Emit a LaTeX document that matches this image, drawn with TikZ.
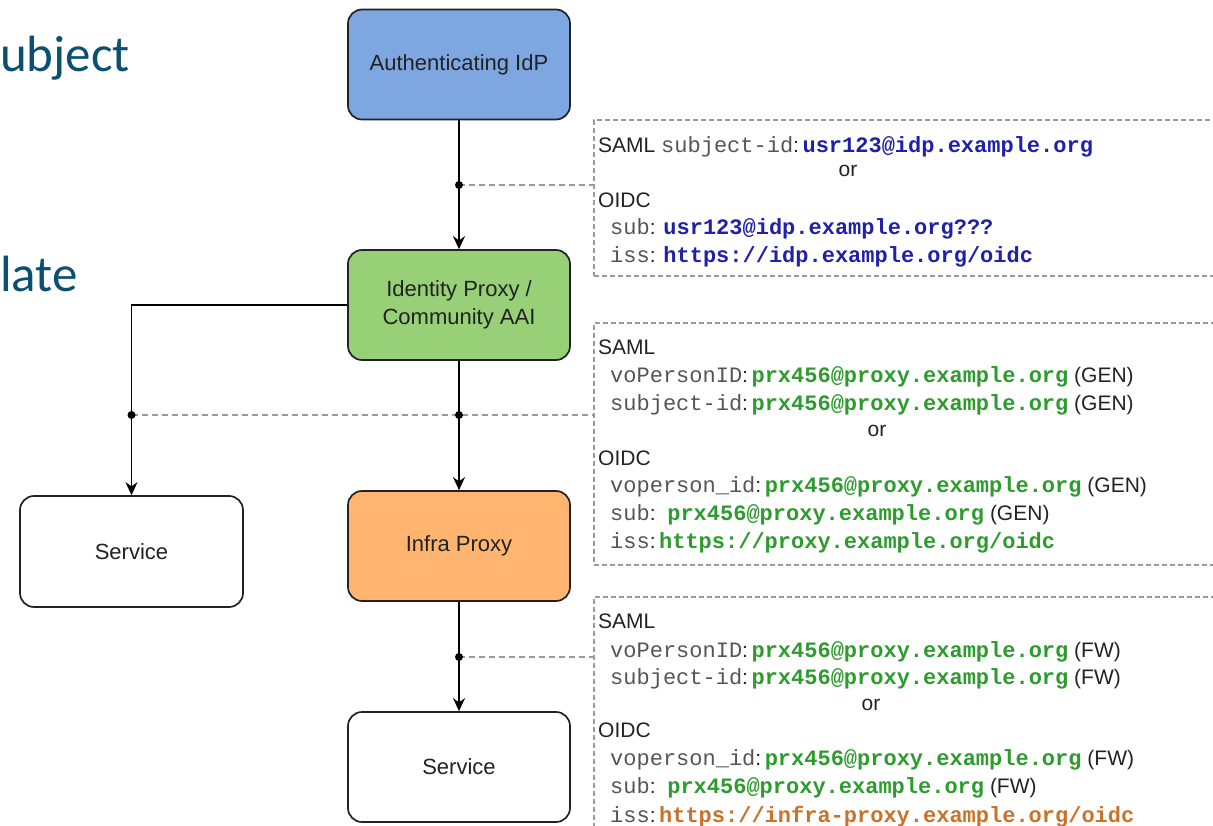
\documentclass[tikz,border=0pt]{standalone}
\usepackage{fontspec}
\setmainfont{Liberation Sans}
\setmonofont{Liberation Mono}
\newfontfamily\slidefont{Carlito}
\usetikzlibrary{arrows.meta}

\definecolor{idpblue}{HTML}{7EA6E0}
\definecolor{proxygreen}{HTML}{97D077}
\definecolor{infraorange}{HTML}{FFB570}
\definecolor{valblue}{HTML}{2020A8}
\definecolor{valgreen}{HTML}{2E9B2E}
\definecolor{valorange}{HTML}{C8722A}
\definecolor{keygray}{HTML}{555555}
\definecolor{slideteal}{HTML}{0B4F71}
\definecolor{dashgray}{HTML}{9A9A9A}
\definecolor{inkdark}{HTML}{222222}

\newcommand\mk[1]{{\color{keygray}\fontsize{22}{26}\selectfont\ttfamily #1}}
\newcommand\vb[1]{{\color{valblue}\fontsize{22}{26}\selectfont\ttfamily\bfseries #1}}
\newcommand\vg[1]{{\color{valgreen}\fontsize{22}{26}\selectfont\ttfamily\bfseries #1}}
\newcommand\vo[1]{{\color{valorange}\fontsize{22}{26}\selectfont\ttfamily\bfseries #1}}

\tikzset{
  flowbox/.style={draw=inkdark, line width=1.7pt, rounded corners=14pt,
    minimum width=222pt, minimum height=110pt, inner sep=0pt,
    font=\fontsize{22}{28}\selectfont, align=center, text=inkdark},
  conn/.style={draw=black, line width=1.7pt, -{Stealth[length=13pt,width=12pt]}},
  tapdot/.style={circle, fill=black, inner sep=0pt, minimum size=8pt},
  tap/.style={draw=dashgray, dash pattern=on 6pt off 4pt, line width=1.4pt},
  annot/.style={draw=dashgray, dash pattern=on 5pt off 3pt, line width=1.2pt, inner sep=0pt},
  ln/.style={anchor=base west, inner sep=0pt, font=\fontsize{21}{25}\selectfont, text=inkdark},
  orline/.style={anchor=base, inner sep=0pt, font=\fontsize{21}{25}\selectfont, text=inkdark},
  slide/.style={anchor=base west, inner sep=0pt, text=slideteal, font=\slidefont\fontsize{51}{60}\selectfont}
}

\begin{document}
\begin{tikzpicture}[x=1pt,y=-1pt]
\useasboundingbox (0,0) rectangle (1213,826);
\clip (0,0) rectangle (1213,826);

% slide fragments
\node[slide] (w1) at (0,72) {ubject};
\node[slide] (w2) at (0,292) {late};

% annotation boxes
\node[annot, minimum width=630pt, minimum height=156pt] (n1) at (909,198) {};
\node[annot, minimum width=630pt, minimum height=242pt] (n2) at (909,444) {};
\node[annot, minimum width=630pt, minimum height=250pt] (n3) at (909,722) {};

% main boxes
\node[flowbox, fill=idpblue] (idp) at (459,64.5) {Authenticating IdP};
\node[flowbox, fill=proxygreen] (ip) at (459,305) {Identity Proxy /\\Community AAI};
\node[flowbox, fill=white, minimum width=223pt, minimum height=111pt] (svc1) at (131.5,551.5) {Service};
\node[flowbox, fill=infraorange] (infra) at (459,546) {Infra Proxy};
\node[flowbox, fill=white] (svc2) at (459,767) {Service};

% tap points
\coordinate (t1) at (459,185);
\coordinate (t2) at (459,415);
\coordinate (t2l) at (131.5,415);
\coordinate (t3) at (459,657);

% dashed taps
\draw[tap] (t1) -- (t1 -| n1.west);
\draw[tap] (t2l) -- (t2) -- (t2 -| n2.west);
\draw[tap] (t3) -- (t3 -| n3.west);

% connectors
\draw[conn] (idp) -- (ip);
\draw[conn] (ip) -- (infra);
\draw[conn] (infra) -- (svc2);
\draw[conn] (ip.west) -| (svc1.north);

\node[tapdot] (d1) at (t1) {};
\node[tapdot] (d2) at (t2) {};
\node[tapdot] (d2l) at (t2l) {};
\node[tapdot] (d3) at (t3) {};

% box 1 text
\node[ln] (a1) at (598,153) {SAML \mk{subject-id}:\,\vb{usr123@idp.example.org}};
\node[orline] (a2) at (848,177) {or};
\node[ln] (a3) at (598,208) {OIDC};
\node[ln] (a4) at (610,235) {\mk{sub}: \vb{usr123@idp.example.org???}};
\node[ln] (a5) at (610,263) {\mk{iss}: \vb{https://idp.example.org/oidc}};

% box 2 text
\node[ln] (b1) at (598,354) {SAML};
\node[ln] (b2) at (610,382) {\mk{voPersonID}:\,\vg{prx456@proxy.example.org} (GEN)};
\node[ln] (b3) at (610,410) {\mk{subject-id}:\,\vg{prx456@proxy.example.org} (GEN)};
\node[orline] (b4) at (877,436) {or};
\node[ln] (b5) at (598,465) {OIDC};
\node[ln] (b6) at (610,492) {\mk{voperson\_id}:\,\vg{prx456@proxy.example.org} (GEN)};
\node[ln] (b7) at (610,520) {\mk{sub}:\ \ \vg{prx456@proxy.example.org} (GEN)};
\node[ln] (b8) at (610,548) {\mk{iss}:\,\vg{https://proxy.example.org/oidc}};

% box 3 text
\node[ln] (c1) at (598,628) {SAML};
\node[ln] (c2) at (610,657) {\mk{voPersonID}:\,\vg{prx456@proxy.example.org} (FW)};
\node[ln] (c3) at (610,684) {\mk{subject-id}:\,\vg{prx456@proxy.example.org} (FW)};
\node[orline] (c4) at (871,710) {or};
\node[ln] (c5) at (598,737) {OIDC};
\node[ln] (c6) at (610,765) {\mk{voperson\_id}:\,\vg{prx456@proxy.example.org} (FW)};
\node[ln] (c7) at (610,793) {\mk{sub}:\ \ \vg{prx456@proxy.example.org} (FW)};
\node[ln] (c8) at (610,822) {\mk{iss}:\,\vo{https://infra-proxy.example.org/oidc}};
\end{tikzpicture}
\end{document}
